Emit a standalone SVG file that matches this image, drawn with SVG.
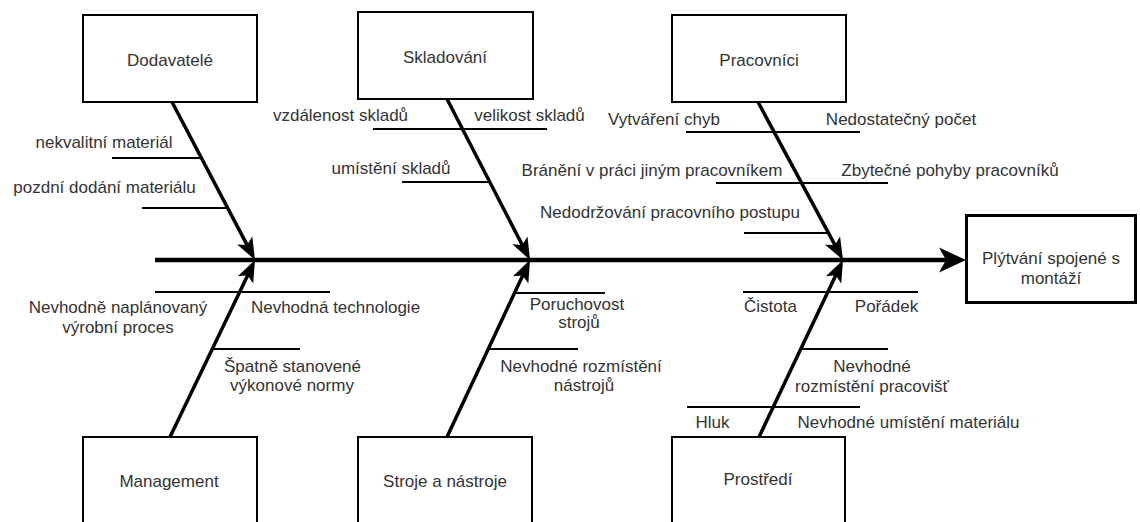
<svg xmlns="http://www.w3.org/2000/svg" width="1140" height="522" viewBox="0 0 1140 522">
  <style>
    text { font-family: "Liberation Sans", Arial, sans-serif; font-size: 17px; fill: #333; }
    .c { text-anchor: middle; }
    .box { fill: #fff; stroke: #000; stroke-width: 2; }
    .effect { fill: #fff; stroke: #000; stroke-width: 3; }
    .bone { stroke: #000; stroke-width: 3.5; fill: none; marker-end: url(#headSmall); }
    .spine { stroke: #000; stroke-width: 4.5; fill: none; marker-end: url(#headLarge); }
    .sub { stroke: #000; stroke-width: 2; fill: none; }
  </style>
  <defs>
    <marker id="headSmall" markerUnits="userSpaceOnUse" viewBox="0 -10 24 20" markerWidth="24" markerHeight="20" refX="6" refY="0" orient="auto">
      <path d="M0,-8.5 L22,0 L0,8.5 L5,0 Z" fill="#000"/>
    </marker>
    <marker id="headLarge" markerUnits="userSpaceOnUse" viewBox="0 -14 30 28" markerWidth="30" markerHeight="28" refX="9" refY="0" orient="auto">
      <path d="M0,-12.5 L27,0 L0,12.5 L7,0 Z" fill="#000"/>
    </marker>
  </defs>

  <rect width="1140" height="522" fill="#fff"/>

  <!-- connectors: spine, main bones and sub-cause lines -->
  <g id="connectors">
    <line class="spine" x1="155" y1="260" x2="948" y2="260"/>

    <line class="bone" x1="172" y1="102" x2="247.56" y2="245.84"/>
    <line class="bone" x1="447" y1="99" x2="522.67" y2="245.78"/>
    <line class="bone" x1="758" y1="102" x2="835.42" y2="245.91"/>
    <line class="bone" x1="170" y1="437" x2="248.07" y2="274.42"/>
    <line class="bone" x1="447" y1="437" x2="523.21" y2="274.49"/>
    <line class="bone" x1="759" y1="437" x2="836.14" y2="274.46"/>

    <!-- Dodavatelé -->
    <line class="sub" x1="112" y1="158" x2="201" y2="158"/>
    <line class="sub" x1="142" y1="208" x2="228" y2="208"/>
    <!-- Skladování -->
    <line class="sub" x1="373" y1="129" x2="547" y2="129"/>
    <line class="sub" x1="402" y1="182" x2="490" y2="182"/>
    <!-- Pracovníci -->
    <line class="sub" x1="686" y1="132" x2="860" y2="132"/>
    <line class="sub" x1="716" y1="183" x2="888" y2="183"/>
    <line class="sub" x1="744" y1="233" x2="829" y2="233"/>
    <!-- Management -->
    <line class="sub" x1="155" y1="292" x2="330" y2="292"/>
    <line class="sub" x1="213" y1="349" x2="300" y2="349"/>
    <!-- Stroje a nástroje -->
    <line class="sub" x1="515" y1="293" x2="605" y2="293"/>
    <line class="sub" x1="489" y1="349" x2="578" y2="349"/>
    <!-- Prostředí -->
    <line class="sub" x1="743" y1="292" x2="918" y2="292"/>
    <line class="sub" x1="801" y1="349" x2="888" y2="349"/>
    <line class="sub" x1="687" y1="407" x2="860" y2="407"/>
  </g>

  <!-- cause category nodes -->
  <g id="dodavatele">
    <rect class="box" x="83" y="15" width="174" height="87"/>
    <text class="c" x="170" y="66">Dodavatelé</text>
    <text class="c" x="104" y="148">nekvalitní materiál</text>
    <text class="c" x="104.5" y="193">pozdní dodání materiálu</text>
  </g>

  <g id="skladovani">
    <rect class="box" x="358" y="12" width="175" height="87"/>
    <text class="c" x="445" y="63">Skladování</text>
    <text class="c" x="340.5" y="121">vzdálenost skladů</text>
    <text class="c" x="529.5" y="121">velikost skladů</text>
    <text class="c" x="391" y="174">umístění skladů</text>
  </g>

  <g id="pracovnici">
    <rect class="box" x="672" y="15" width="174" height="87"/>
    <text class="c" x="759" y="66">Pracovníci</text>
    <text class="c" x="664" y="125">Vytváření chyb</text>
    <text class="c" x="901" y="125">Nedostatečný počet</text>
    <text class="c" x="652" y="176">Bránění v práci jiným pracovníkem</text>
    <text class="c" x="950" y="176">Zbytečné pohyby pracovníků</text>
    <text class="c" x="670" y="218">Nedodržování pracovního postupu</text>
  </g>

  <g id="management">
    <rect class="box" x="83" y="437" width="174" height="90"/>
    <text class="c" x="169" y="487">Management</text>
    <text class="c" x="118" y="313">Nevhodně naplánovaný</text>
    <text class="c" x="118" y="333">výrobní proces</text>
    <text class="c" x="335.5" y="313">Nevhodná technologie</text>
    <text class="c" x="292.5" y="372">Špatně stanovené</text>
    <text class="c" x="292" y="391">výkonové normy</text>
  </g>

  <g id="stroje">
    <rect class="box" x="358" y="437" width="174" height="90"/>
    <text class="c" x="445" y="487">Stroje a nástroje</text>
    <text class="c" x="577" y="310">Poruchovost</text>
    <text class="c" x="579" y="328">strojů</text>
    <text class="c" x="581" y="372">Nevhodné rozmístění</text>
    <text class="c" x="584" y="391">nástrojů</text>
  </g>

  <g id="prostredi">
    <rect class="box" x="672" y="437" width="173" height="90"/>
    <text class="c" x="758" y="485">Prostředí</text>
    <text class="c" x="770.5" y="312">Čistota</text>
    <text class="c" x="886.5" y="312">Pořádek</text>
    <text class="c" x="872" y="372">Nevhodné</text>
    <text class="c" x="872" y="392">rozmístění pracovišť</text>
    <text class="c" x="712.5" y="428">Hluk</text>
    <text class="c" x="908.5" y="428">Nevhodné umístění materiálu</text>
  </g>

  <!-- effect node -->
  <g id="effect">
    <rect class="effect" x="966.5" y="215.5" width="169" height="87"/>
    <text class="c" x="1051" y="264">Plýtvání spojené s</text>
    <text class="c" x="1051" y="284">montáží</text>
  </g>
</svg>
